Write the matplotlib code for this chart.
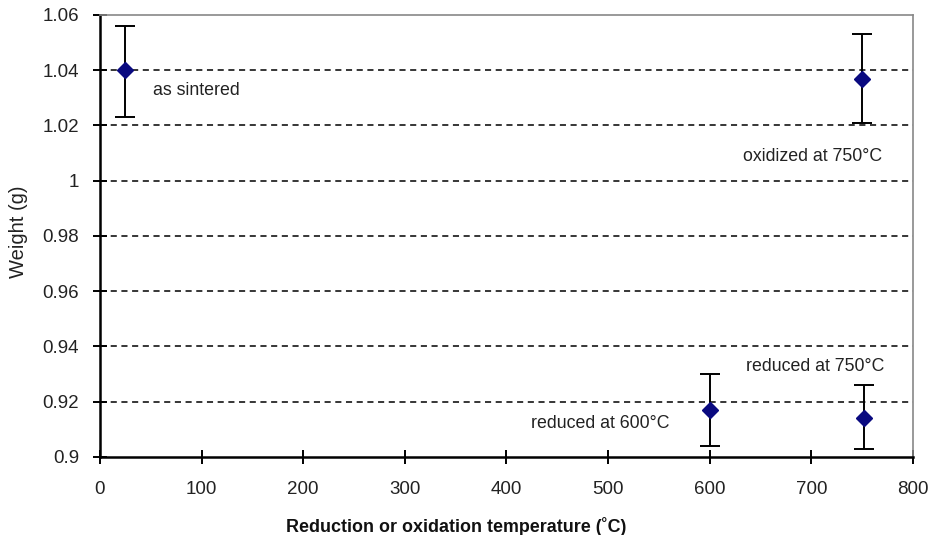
import matplotlib.pyplot as plt
import numpy as np

plt.rcParams['font.family'] = ['Liberation Sans', 'DejaVu Sans']

# temperature (C), weight (g) with asymmetric error bar ends
temps = [25, 750, 600, 752]
weights = [1.040, 1.037, 0.917, 0.914]
err_hi = [1.056, 1.053, 0.930, 0.926]
err_lo = [1.023, 1.021, 0.904, 0.903]

labels = ['as sintered', 'oxidized at 750°C', 'reduced at 600°C', 'reduced at 750°C']
label_pos = [(52, 1.0325), (701, 1.0086), (492, 0.9123), (704, 0.9327)]
label_ha = ['left', 'center', 'center', 'center']

yticks = [0.9, 0.92, 0.94, 0.96, 0.98, 1, 1.02, 1.04, 1.06]
ytick_labels = ['0.9', '0.92', '0.94', '0.96', '0.98', '1', '1.02', '1.04', '1.06']

fig = plt.figure(figsize=(9.29, 5.35), dpi=100)
ax = fig.add_axes([0.1076, 0.1458, 0.8752, 0.8262])

for y in yticks[1:-1]:
    ax.axhline(y, color='black', lw=1.1, ls=(0, (4, 3)), zorder=1)

w = np.array(weights)
yerr = [w - np.array(err_lo), np.array(err_hi) - w]
ax.errorbar(temps, weights, yerr=yerr, fmt='D', color='#0a0a80', ms=8,
            ecolor='black', elinewidth=1.4, capsize=7.5, capthick=1.4, zorder=3)

for lab, (x, y), ha in zip(labels, label_pos, label_ha):
    ax.text(x, y, lab, ha=ha, va='center', fontsize=12.8, color='#222222')

ax.set_xlim(0, 800)
ax.set_ylim(0.9, 1.06)
ax.set_xticks(range(0, 801, 100))
ax.set_yticks(yticks)
ax.set_yticklabels(ytick_labels)
ax.tick_params(labelsize=13.5, direction='inout', length=10, width=1.4,
               colors='black', labelcolor='#222222')
ax.tick_params(axis='x', pad=12)
ax.tick_params(axis='y', pad=10)

ax.spines['left'].set_linewidth(1.8)
ax.spines['bottom'].set_linewidth(1.8)
for s in ['top', 'right']:
    ax.spines[s].set_color('#888888')
    ax.spines[s].set_linewidth(1.2)

fig.text(19 / 929, 1 - 232 / 535, 'Weight (g)', fontsize=14.5, rotation=90,
         ha='center', va='center', color='#222222')
fig.text(456 / 929, 1 - 527 / 535, 'Reduction or oxidation temperature (˚C)',
         fontsize=12.9, fontweight='bold', ha='center', va='center', color='#111111')

fig.savefig('out.png', dpi=100)
